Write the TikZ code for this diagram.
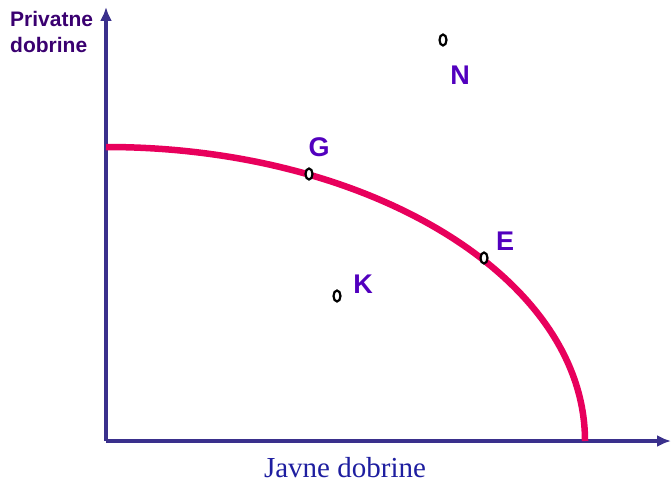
\documentclass[tikz,border=0pt]{standalone}
\usepackage{fontspec}
\newfontfamily\lblfont{Liberation Sans}
\newfontfamily\axisfont{Liberation Serif}
\definecolor{axisblue}{RGB}{58, 48, 140}
\definecolor{labelviolet}{RGB}{82, 0, 190}
\definecolor{titleviolet}{RGB}{58, 0, 112}
\definecolor{curvered}{RGB}{232, 0, 92}
\definecolor{serifblue}{RGB}{30, 30, 160}
\usetikzlibrary{shapes,arrows,arrows.meta,positioning}

\begin{document}
\begin{tikzpicture}[x=1pt, y=1pt]
                \tikzstyle{axis} = [draw, axisblue, line width=3.2pt, -{Latex[length=14pt, width=12pt]}]
                \tikzstyle{dot} = [draw, ellipse, fill=white, line width=2.2pt, inner sep=0pt, minimum width=7pt, minimum height=11pt]
                \tikzstyle{letter} = [text=labelviolet, font=\lblfont\bfseries\fontsize{27}{27}\selectfont, inner sep=0pt]
                \useasboundingbox (0,0) rectangle (671,483);

                \coordinate (O) at (106,42);
                \coordinate (ytop) at (106,476);
                \coordinate (xend) at (671,42);

                % Axes
                \path [axis] (O) -- (ytop);
                \path [axis] (O) -- (xend);

                % Production possibility frontier
                \draw [curvered, line width=6.5pt] (106,336) arc [start angle=90, end angle=0, x radius=479, y radius=294];

                \node [dot] (pG) at (309,309) {};
                \node [dot] (pE) at (484,225) {};
                \node [dot] (pK) at (337,187) {};
                \node [dot] (pN) at (443,443) {};

                \node [letter] (lG) at (319,336) {G};
                \node [letter] (lE) at (505,242) {E};
                \node [letter] (lK) at (363,199) {K};
                \node [letter] (lN) at (460,408) {N};

                % Axis titles
                \node [anchor=west, align=left, text=titleviolet, inner sep=0pt, font=\lblfont\bfseries\fontsize{21}{26}\selectfont] (ytitle) at (10,451) {Privatne\\dobrine};
                \node [anchor=base, text=serifblue, inner sep=0pt, font=\axisfont\fontsize{29}{29}\selectfont] (xtitle) at (345,6) {Javne dobrine};
            \end{tikzpicture}
\end{document}
